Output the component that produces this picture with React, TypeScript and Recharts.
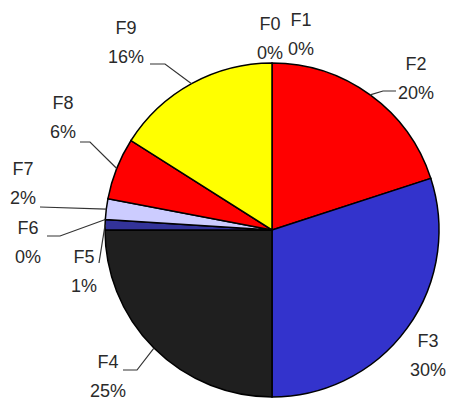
import { PieChart, Pie, Cell } from 'recharts';

const names = ['F0', 'F1', 'F2', 'F3', 'F4', 'F5', 'F6', 'F7', 'F8', 'F9'];
const shares = [0, 0, 20, 30, 25, 1, 0, 2, 6, 16];
const colors = ['#ffffff', '#ffffff', '#ff0000', '#3333cc', '#1f1f1f', '#333399', '#ffffff', '#ccccff', '#ff0000', '#ffff00'];

const chartData = names.map((name, i) => ({ name, value: shares[i] }));

// where each label block sits, relative to the pie centre (centre of the name line)
const labelSpot: Record<string, [number, number]> = {
  F0: [-2, -206],
  F1: [29, -210],
  F2: [144, -166],
  F3: [156, 111],
  F4: [-164, 132],
  F5: [-188, 27],
  F6: [-244, -2],
  F7: [-249, -61],
  F8: [-209, -127],
  F9: [-146, -202],
};

// leader line bends, relative to the pie centre; starts at the slice edge
const leader: Record<string, [number, number][]> = {
  F2: [[111, -139], [124, -139]],
  F4: [[-135, 140], [-149, 140]],
  F5: [[-173, 33]],
  F6: [[-212, 6], [-225, 6]],
  F7: [[-232, -23]],
  F8: [[-182, -88], [-192, -88]],
  F9: [[-107, -166], [-122, -166]],
};

const RAD = Math.PI / 180;

function renderLabel(props: any) {
  const { cx, cy, midAngle, outerRadius, index } = props;
  const name = names[index];
  const [dx, dy] = labelSpot[name];
  const ex = cx + outerRadius * Math.cos(-midAngle * RAD);
  const ey = cy + outerRadius * Math.sin(-midAngle * RAD);
  const bends = leader[name];
  const pts = bends ? [[ex, ey], ...bends.map(([bx, by]) => [cx + bx, cy + by])] : null;
  return (
    <g key={name}>
      {pts && (
        <polyline
          points={pts.map((p) => p.join(',')).join(' ')}
          fill="none"
          stroke="#333"
          strokeWidth={1.2}
        />
      )}
      <text
        x={cx + dx}
        y={cy + dy}
        textAnchor="middle"
        dominantBaseline="central"
        fontFamily="Liberation Sans, Arial, sans-serif"
        fontSize={18}
        fill="#2a2a2a"
      >
        {name}
      </text>
      <text
        x={cx + dx}
        y={cy + dy + 29}
        textAnchor="middle"
        dominantBaseline="central"
        fontFamily="Liberation Sans, Arial, sans-serif"
        fontSize={18}
        fill="#2a2a2a"
      >
        {shares[index]}%
      </text>
    </g>
  );
}

export default function App() {
  return (
    <div style={{ position: 'absolute', left: 0, top: 0, background: '#fff' }}>
      <PieChart width={450} height={401} margin={{ top: 0, right: 0, bottom: 0, left: 0 }}>
        <Pie
          data={chartData}
          dataKey="value"
          nameKey="name"
          cx={272}
          cy={230}
          outerRadius={167}
          startAngle={90}
          endAngle={-270}
          stroke="#000"
          strokeWidth={1.5}
          label={renderLabel}
          labelLine={false}
          isAnimationActive={false}
        >
          {chartData.map((d, i) => (
            <Cell key={d.name} fill={colors[i]} />
          ))}
        </Pie>
      </PieChart>
    </div>
  );
}
